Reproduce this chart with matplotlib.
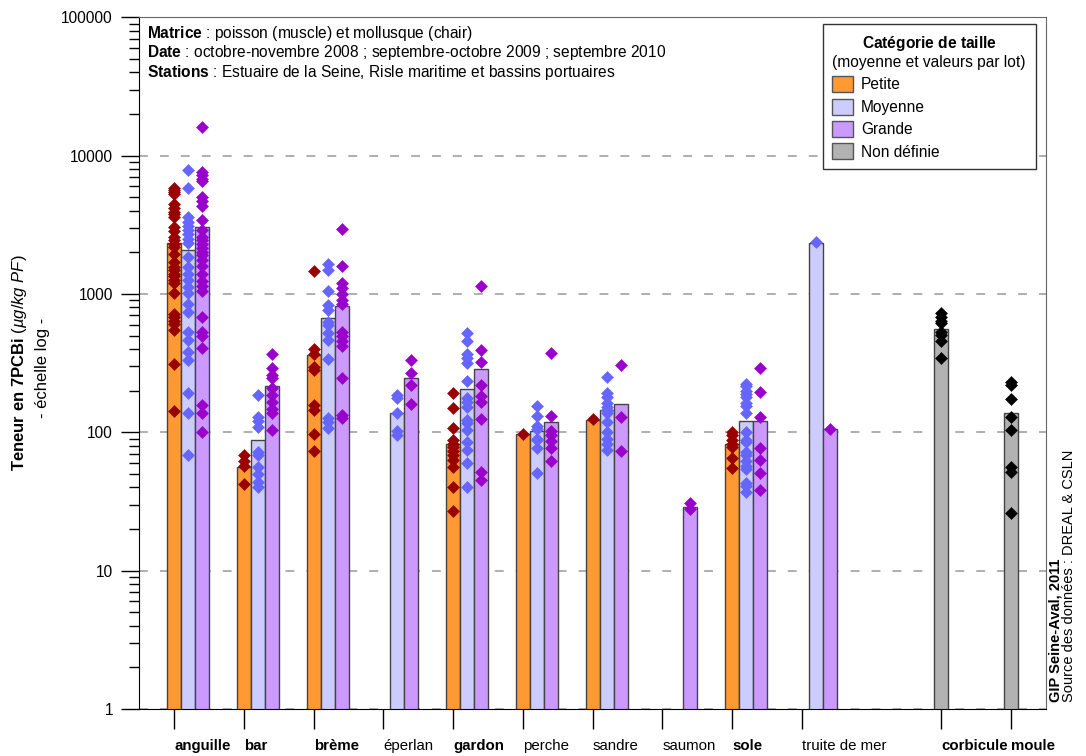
import numpy as np
import matplotlib.pyplot as plt
from matplotlib.patches import Patch
from matplotlib.ticker import FuncFormatter, LogLocator, NullFormatter

plt.rcParams['font.family'] = ['Liberation Sans', 'DejaVu Sans']
plt.rcParams['mathtext.fontset'] = 'custom'
plt.rcParams['mathtext.rm'] = 'Liberation Sans'
plt.rcParams['mathtext.it'] = 'Liberation Sans:italic'
plt.rcParams['mathtext.bf'] = 'Liberation Sans:bold'

# Species on the x axis (a gap is left before the two molluscs).
species = ['anguille', 'bar', 'brème', 'éperlan', 'gardon', 'perche', 'sandre',
           'saumon', 'sole', 'truite de mer', 'corbicule', 'moule']
bold_species = ['anguille', 'bar', 'brème', 'gardon', 'sole', 'corbicule', 'moule']

nan = np.nan

# Mean per size category (bar heights), µg/kg PF.
petite_mean = [2355, 56, 365, nan, 83, 97, 122, nan, 82, nan, nan, nan]
moyenne_mean = [2072, 88, 665, 139, 204, 102, 144, nan, 120, 2355, nan, nan]
grande_mean = [3054, 216, 820, 245, 286, 119, 160, 29, 120, 105, nan, nan]
nondef_mean = [nan] * 10 + [557, 137]

# Values per lot (diamonds).
petite_lots = [
    [5800, 5600, 5450, 5300, 4500, 4200, 3900, 3800, 3600, 3050, 2850, 2600, 2450, 2300,
     2200, 1960, 1700, 1570, 1500, 1400, 1350, 1260, 1200, 1010, 720, 685, 640, 610, 550,
     311, 143],
    [68, 62, 57, 42],
    [1470, 397, 371, 297, 281, 157, 145, 98, 73],
    [],
    [191, 149, 108, 88, 83, 78, 73, 68, 63, 56, 40, 27],
    [98],
    [124],
    [],
    [101, 95, 88, 83, 78, 65, 55],
    [], [], [],
]
moyenne_lots = [
    [7850, 5850, 3600, 3300, 3100, 2900, 2700, 2500, 2350, 1850, 1570, 1400, 1260, 1130,
     1010, 850, 740, 530, 465, 382, 333, 191, 138, 68],
    [186, 129, 120, 110, 72, 68, 56, 50, 44, 40],
    [1660, 1490, 1050, 830, 765, 630, 596, 520, 464, 338, 126, 119, 107],
    [186, 176, 137, 102, 95],
    [519, 458, 371, 343, 318, 234, 176, 166, 153, 122, 116, 104, 85, 74, 60, 40],
    [155, 132, 111, 105, 90, 88, 77, 51],
    [252, 191, 181, 162, 153, 145, 137, 119, 101, 90, 83, 74],
    [],
    [225, 215, 200, 190, 180, 163, 155, 137, 101, 88, 85, 72, 69, 62, 57, 54, 43, 41, 37],
    [2360],
    [], [],
]
grande_lots = [
    [16000, 7600, 7300, 6800, 6600, 5000, 4700, 4300, 3400, 2900, 2600, 2450, 2300, 2150,
     2000, 1900, 1750, 1600, 1400, 1250, 1150, 1050, 685, 530, 500, 410, 157, 138, 100],
    [371, 294, 258, 245, 208, 186, 165, 148, 137, 104],
    [2940, 1600, 1200, 1100, 1000, 900, 850, 530, 500, 460, 420, 249, 133, 126],
    [333, 267, 219, 160],
    [1145, 393, 320, 219, 183, 166, 125, 52, 45],
    [375, 132, 103, 95, 87, 77, 62],
    [306, 129, 73],
    [31, 28],
    [290, 196, 129, 77, 63, 51, 38],
    [105],
    [], [],
]
nondef_lots = [[]] * 10 + [
    [723, 680, 640, 612, 532, 504, 458, 342],
    [232, 219, 174, 129, 104, 56, 52, 26],
]

# size class: (label, means, lots, bar colour, marker colour, offset in slot)
classes = [
    ('Petite', petite_mean, petite_lots, '#ff9933', '#990000', 0.0),
    ('Moyenne', moyenne_mean, moyenne_lots, '#ccccff', '#6666ff', 0.2),
    ('Grande', grande_mean, grande_lots, '#cc99ff', '#9900cc', 0.4),
    ('Non définie', nondef_mean, nondef_lots, '#b2b2b2', '#000000', 0.0),
]

idx = np.arange(len(species))
pos = idx + (idx >= 10)

fig = plt.figure(figsize=(10.86, 7.56), dpi=100)
ax = fig.add_axes([0.1283, 0.0622, 0.8349, 0.9149])
ax.set_yscale('log')

for label, means, lots, col, mcol, off in classes:
    means = np.array(means, dtype=float)
    ok = ~np.isnan(means)
    ax.bar(pos[ok] + off, means[ok], width=0.2, color=col, edgecolor='#444444',
           linewidth=1, zorder=2)
    for p, vals in zip(pos, lots):
        if len(vals):
            ax.plot([p + off] * len(vals), vals, 'D', color=mcol, ms=5.8, mew=0.4,
                    zorder=3)

ax.set_ylim(1, 100000)
ax.set_xlim(-0.5, 12.5)
ax.yaxis.set_major_formatter(FuncFormatter(lambda v, p: f'{v:g}'))
ax.yaxis.set_minor_locator(LogLocator(base=10, subs=np.arange(2, 10)))
ax.yaxis.set_minor_formatter(NullFormatter())
ax.tick_params(axis='y', which='major', length=13, width=1, pad=6, labelsize=11.2)
ax.tick_params(axis='y', which='minor', length=7.2, width=1)
ax.set_axisbelow(True)
ax.yaxis.grid(True, which='major', color='#999999', linewidth=1.1,
              linestyle=(0, (5.8, 7.9)))

ax.set_xticks(pos)
ax.set_xticklabels(species, ha='left')
ax.tick_params(axis='x', length=14.4, width=1, pad=7.5, labelsize=10.8)
for t in ax.get_xticklabels():
    if t.get_text() in bold_species:
        t.set_fontweight('bold')

for s in ['top', 'right']:
    ax.spines[s].set_color('#666666')
for s in ['left', 'bottom']:
    ax.spines[s].set_color('#000000')

handles = [Patch(facecolor=c[3], edgecolor='#555555', label=c[0]) for c in classes]
leg = ax.legend(handles=handles, loc='upper right', bbox_to_anchor=(0.9885, 0.9905),
                borderaxespad=0,
                title=r'$\mathbf{Catégorie\ de\ taille}$' + '\n(moyenne et valeurs par lot)',
                fontsize=11.2, title_fontsize=11.2, frameon=True, fancybox=False,
                edgecolor='#333333', framealpha=1, handlelength=1.3, handleheight=1.2,
                handletextpad=0.55, labelspacing=0.4, borderpad=0.62, alignment='left')
leg.get_title().set_multialignment('center')
leg.get_frame().set_linewidth(1)

# Header text at the top left
fig.text(147 / 1086, 1 - 33.5 / 756, r'$\mathbf{Matrice}$ : poisson (muscle) et mollusque (chair)',
         fontsize=11.2, va='center')
fig.text(147 / 1086, 1 - 52.7 / 756,
         r'$\mathbf{Date}$ : octobre-novembre 2008 ; septembre-octobre 2009 ; septembre 2010',
         fontsize=11.2, va='center')
fig.text(147 / 1086, 1 - 72.3 / 756,
         r'$\mathbf{Stations}$ : Estuaire de la Seine, Risle maritime et bassins portuaires',
         fontsize=11.2, va='center')

# Y label, two lines
fig.text(20 / 1086, 1 - 363 / 756,
         r'$\mathbf{Teneur\ en\ 7PCBi}\ \mathit{(µg/kg\ PF)}$',
         rotation=90, ha='center', va='center', fontsize=12)
fig.text(42 / 1086, 1 - 368 / 756, '- échelle log -', rotation=90, ha='center',
         va='center', fontsize=12)

# Source on the right
fig.text(1055 / 1086, 1 - 702 / 756, 'GIP Seine-Aval, 2011', rotation=90, ha='center',
         va='bottom', fontsize=10.5, fontweight='bold')
fig.text(1069 / 1086, 1 - 702 / 756, 'Source des données : DREAL & CSLN', rotation=90,
         ha='center', va='bottom', fontsize=10.5)

fig.savefig('out.png', dpi=100)
